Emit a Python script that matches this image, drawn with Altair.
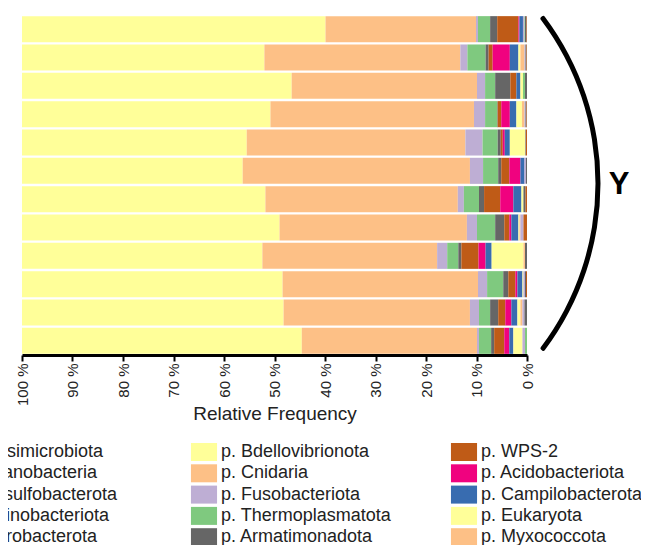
import altair as alt
import pandas as pd

# ---------------- data (percent of reads per sample) ----------------
samples = ["S1", "S2", "S3", "S4", "S5", "S6", "S7", "S8", "S9", "S10", "S11", "S12"]

# taxa in stacking order from the 100 % side (left) to the 0 % side (right)
taxa = [
    "p. Bdellovibrionota", "p. Cnidaria", "p. Fusobacteriota", "p. Thermoplasmatota",
    "p. Armatimonadota", "p. WPS-2", "p. Acidobacteriota", "p. Campilobacterota",
    "p. Eukaryota", "p. Myxococcota", "p. Elusimicrobiota", "p. Cyanobacteria",
    "p. Desulfobacterota", "p. Actinobacteriota", "p. Fibrobacterota",
]

bdellovibrionota = [60.1, 48.0, 53.4, 49.2, 44.5, 43.7, 48.2, 51.0, 47.6, 51.6, 51.8, 55.4]
cnidaria         = [29.8, 38.8, 36.7, 40.3, 43.3, 45.0, 38.1, 37.1, 34.6, 38.7, 36.9, 34.7]
fusobacteriota   = [0.4, 1.4, 1.6, 2.2, 3.4, 2.6, 1.2, 2.0, 2.0, 1.8, 1.8, 0.4]
thermoplasmatota = [2.4, 3.6, 2.0, 2.4, 3.0, 3.0, 3.0, 3.6, 2.2, 3.2, 2.2, 2.4]
armatimonadota   = [1.4, 0.6, 3.0, 0.1, 0.6, 0.6, 1.0, 1.8, 0.6, 1.0, 1.6, 0.6]
wps2             = [4.2, 0.8, 1.2, 0.7, 0.4, 1.6, 3.2, 1.0, 3.4, 1.4, 1.4, 2.0]
acidobacteriota  = [0.2, 3.4, 0.0, 1.7, 0.4, 2.2, 2.6, 0.4, 1.4, 0.4, 1.2, 1.0]
campilobacterota = [0.7, 1.7, 0.8, 1.3, 1.0, 0.8, 1.6, 1.4, 1.2, 1.0, 1.2, 0.8]
eukaryota        = [0.0, 0.4, 0.5, 1.1, 3.0, 0.0, 0.4, 0.2, 6.3, 0.2, 0.6, 1.8]
myxococcota      = [0.0, 0.8, 0.0, 0.5, 0.1, 0.0, 0.0, 0.2, 0.3, 0.0, 0.4, 0.0]
elusimicrobiota  = [0.3, 0.2, 0.0, 0.2, 0.0, 0.3, 0.0, 0.6, 0.0, 0.3, 0.4, 0.5]
cyanobacteria    = [0.1, 0.0, 0.4, 0.0, 0.0, 0.0, 0.0, 0.0, 0.0, 0.0, 0.0, 0.4]
desulfobacterota = [0.3, 0.2, 0.4, 0.2, 0.1, 0.2, 0.4, 0.0, 0.4, 0.2, 0.5, 0.0]
actinobacteriota = [0.1, 0.1, 0.0, 0.1, 0.2, 0.0, 0.3, 0.7, 0.0, 0.2, 0.0, 0.0]
fibrobacterota   = [0.0, 0.0, 0.0, 0.0, 0.0, 0.0, 0.0, 0.0, 0.0, 0.0, 0.0, 0.0]

series = [
    bdellovibrionota, cnidaria, fusobacteriota, thermoplasmatota, armatimonadota,
    wps2, acidobacteriota, campilobacterota, eukaryota, myxococcota,
    elusimicrobiota, cyanobacteria, desulfobacterota, actinobacteriota, fibrobacterota,
]

colors = [
    "#ffff99", "#fdc086", "#beaed4", "#7fc97f", "#666666",
    "#bf5b17", "#f0027f", "#386cb0", "#ffff99", "#fdc086",
    "#beaed4", "#7fc97f", "#666666", "#bf5b17", "#f0027f",
]

# legend columns as shown (Vega fills the grid column by column)
legend_col1 = ["p. Elusimicrobiota", "p. Cyanobacteria", "p. Desulfobacterota", "p. Actinobacteriota", "p. Fibrobacterota"]
legend_col2 = ["p. Bdellovibrionota", "p. Cnidaria", "p. Fusobacteriota", "p. Thermoplasmatota", "p. Armatimonadota"]
legend_col3 = ["p. WPS-2", "p. Acidobacteriota", "p. Campilobacterota", "p. Eukaryota", "p. Myxococcota"]
legend_values = legend_col1 + legend_col2 + legend_col3

x_ticks = [0, 10, 20, 30, 40, 50, 60, 70, 80, 90, 100]
bracket_label = ["Y"]

# ---------------- build table ----------------
rows = []
for rank, (taxon, vals) in enumerate(zip(taxa, series)):
    for s, v in zip(samples, vals):
        rows.append({"sample": s, "taxon": taxon, "value": v, "rank": rank})
df = pd.DataFrame(rows)

FONT = "Liberation Sans"

bars = alt.Chart(df).mark_bar().encode(
    x=alt.X(
        "value:Q",
        stack="zero",
        scale=alt.Scale(domain=[0, 100], reverse=True, nice=False),
        axis=alt.Axis(
            values=x_ticks,
            labelExpr="datum.value + ' %'",
            labelAngle=270,
            labelFontSize=15,
            labelFont=FONT,
            labelColor="#222222",
            labelPadding=2,
            title="Relative Frequency",
            titleFont=FONT,
            titleFontSize=19,
            titleFontWeight="normal",
            titleColor="#222222",
            titlePadding=-1,
            domainColor="#000000",
            domainWidth=3,
            tickColor="#000000",
            tickWidth=2,
            tickSize=6,
            grid=False,
        ),
    ),
    y=alt.Y(
        "sample:N",
        sort=samples,
        axis=None,
        scale=alt.Scale(paddingInner=0.08, paddingOuter=0.04),
    ),
    color=alt.Color(
        "taxon:N",
        scale=alt.Scale(domain=taxa, range=colors),
        legend=alt.Legend(
            values=legend_values,
            title=None,
            orient="none",
            legendX=-87,
            legendY=428,
            columns=3,
            gridAlign="all",
            columnPadding=58,
            rowPadding=3.3,
            symbolType="M-1.45,-1L1.45,-1L1.45,1L-1.45,1Z",
            symbolSize=324,
            symbolStrokeWidth=0,
            symbolOpacity=1,
            labelFont=FONT,
            labelFontSize=18,
            labelColor="#222222",
            labelOffset=8,
            labelLimit=400,
            padding=0,
        ),
    ),
    order=alt.Order("rank:Q", sort="descending"),
)

bracket_df = pd.DataFrame({"label": bracket_label})

arc = alt.Chart(bracket_df).mark_arc(
    theta=0.919,
    theta2=2.222,
    radius=277.5,
    radius2=272.5,
    color="#000000",
    cornerRadius=2,
).encode(x=alt.value(301), y=alt.value(168.4))

ytext = alt.Chart(bracket_df).mark_text(
    font=FONT,
    fontSize=31,
    fontWeight="bold",
    align="center",
    baseline="alphabetic",
    color="#000000",
).encode(x=alt.value(597), y=alt.value(178.5), text="label:N")

chart = (
    alt.layer(bars, arc, ytext)
    .properties(
        width=505,
        height=340,
        autosize=alt.AutoSizeParams(type="none"),
        padding={"left": 14, "top": 7, "right": 114, "bottom": 190},
    )
    .configure_view(stroke=None)
)

chart.save("out.html", embed_options={"renderer": "svg", "actions": False})
